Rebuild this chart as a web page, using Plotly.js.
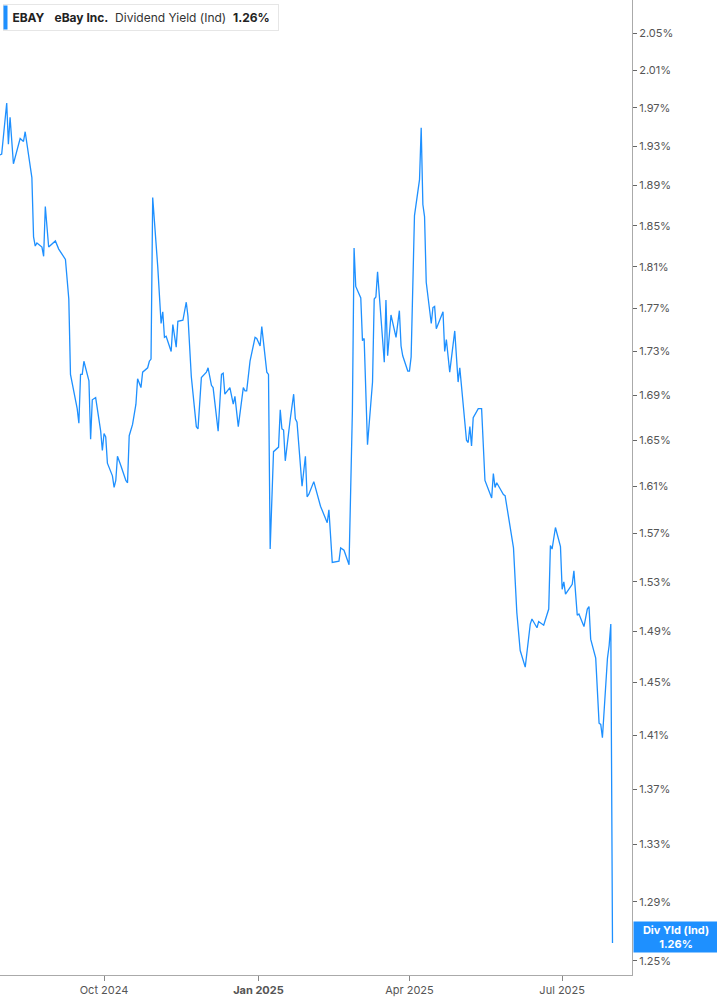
<!DOCTYPE html>
<html>
<head>
<meta charset="utf-8">
<script src="https://cdn.plot.ly/plotly-3.0.1.min.js"></script>
<style>
  html, body { margin:0; padding:0; background:#fff; }
  #chart { width:717px; height:1005px; }
</style>
</head>
<body>
<div id="chart"></div>
<script>
var dates = [
  '2024-07-31','2024-08-01','2024-08-04','2024-08-05','2024-08-06','2024-08-08','2024-08-12','2024-08-14','2024-08-15','2024-08-16',
  '2024-08-19','2024-08-20','2024-08-21','2024-08-22','2024-08-25','2024-08-26','2024-08-27','2024-08-29','2024-09-02','2024-09-04',
  '2024-09-08','2024-09-10','2024-09-11','2024-09-15','2024-09-16','2024-09-17','2024-09-18','2024-09-19','2024-09-22','2024-09-23',
  '2024-09-24','2024-09-26','2024-09-27','2024-09-29','2024-09-30','2024-10-01','2024-10-02','2024-10-03','2024-10-06','2024-10-07',
  '2024-10-08','2024-10-09','2024-10-11','2024-10-14','2024-10-15','2024-10-16','2024-10-18','2024-10-20','2024-10-21','2024-10-23',
  '2024-10-24','2024-10-27','2024-10-28','2024-10-29','2024-10-30','2024-11-02','2024-11-04','2024-11-05','2024-11-06','2024-11-07',
  '2024-11-10','2024-11-11','2024-11-13','2024-11-14','2024-11-17','2024-11-19','2024-11-20','2024-11-22','2024-11-25','2024-11-26',
  '2024-11-28','2024-12-01','2024-12-02','2024-12-04','2024-12-05','2024-12-08','2024-12-10','2024-12-11','2024-12-12','2024-12-15',
  '2024-12-17','2024-12-18','2024-12-20','2024-12-23','2024-12-24','2024-12-25','2024-12-27','2024-12-29','2024-12-30','2024-12-31',
  '2025-01-02','2025-01-03','2025-01-06','2025-01-07','2025-01-08','2025-01-10','2025-01-13','2025-01-14','2025-01-15','2025-01-16',
  '2025-01-17','2025-01-20','2025-01-22','2025-01-23','2025-01-24','2025-01-27','2025-01-29','2025-01-30','2025-01-31','2025-02-03',
  '2025-02-05','2025-02-07','2025-02-11','2025-02-12','2025-02-14','2025-02-18','2025-02-19','2025-02-21','2025-02-24','2025-02-26',
  '2025-02-27','2025-02-28','2025-03-03','2025-03-04','2025-03-05','2025-03-07','2025-03-10','2025-03-11','2025-03-12','2025-03-13',
  '2025-03-17','2025-03-18','2025-03-19','2025-03-21','2025-03-24','2025-03-26','2025-03-27','2025-03-28','2025-03-31','2025-04-01',
  '2025-04-02','2025-04-04','2025-04-07','2025-04-08','2025-04-09','2025-04-10','2025-04-11','2025-04-14','2025-04-15','2025-04-16',
  '2025-04-17','2025-04-21','2025-04-22','2025-04-23','2025-04-25','2025-04-28','2025-04-30','2025-05-01','2025-05-05','2025-05-06',
  '2025-05-07','2025-05-08','2025-05-09','2025-05-12','2025-05-14','2025-05-16','2025-05-20','2025-05-21','2025-05-22','2025-05-23',
  '2025-05-27','2025-05-28','2025-06-02','2025-06-04','2025-06-06','2025-06-09','2025-06-12','2025-06-13','2025-06-16','2025-06-17',
  '2025-06-20','2025-06-23','2025-06-24','2025-06-25','2025-06-27','2025-06-30','2025-07-01','2025-07-02','2025-07-03','2025-07-07',
  '2025-07-08','2025-07-10','2025-07-11','2025-07-14','2025-07-16','2025-07-17','2025-07-18','2025-07-21','2025-07-23','2025-07-24',
  '2025-07-25','2025-07-28','2025-07-29','2025-07-30','2025-07-31'
];
var divYield = [
  1.921,1.922,1.975,1.932,1.960,1.912,1.938,1.935,1.945,1.934,
  1.898,1.839,1.830,1.833,1.829,1.820,1.869,1.829,1.835,1.827,
  1.817,1.779,1.709,1.678,1.665,1.709,1.709,1.721,1.703,1.651,
  1.686,1.688,1.679,1.658,1.641,1.656,1.653,1.630,1.619,1.609,
  1.615,1.636,1.628,1.615,1.613,1.654,1.664,1.682,1.705,1.697,
  1.711,1.715,1.721,1.723,1.878,1.810,1.756,1.767,1.743,1.744,
  1.730,1.755,1.734,1.758,1.759,1.776,1.763,1.707,1.662,1.660,
  1.706,1.711,1.715,1.699,1.697,1.658,1.709,1.710,1.691,1.697,
  1.682,1.689,1.662,1.697,1.694,1.694,1.721,1.735,1.743,1.742,
  1.735,1.753,1.711,1.709,1.557,1.640,1.644,1.677,1.660,1.659,
  1.632,1.669,1.691,1.669,1.666,1.610,1.636,1.601,1.603,1.614,
  1.603,1.593,1.579,1.590,1.546,1.547,1.558,1.556,1.544,1.676,
  1.828,1.791,1.780,1.740,1.742,1.646,1.702,1.779,1.781,1.805,
  1.720,1.778,1.726,1.764,1.743,1.768,1.735,1.726,1.712,1.712,
  1.725,1.860,1.896,1.949,1.871,1.859,1.795,1.756,1.771,1.772,
  1.751,1.767,1.730,1.741,1.711,1.749,1.702,1.715,1.650,1.648,
  1.662,1.645,1.670,1.678,1.678,1.615,1.600,1.621,1.609,1.613,
  1.603,1.602,1.558,1.505,1.475,1.462,1.496,1.500,1.493,1.498,
  1.495,1.508,1.560,1.557,1.575,1.559,1.524,1.530,1.520,1.528,
  1.539,1.503,1.504,1.494,1.508,1.510,1.484,1.469,1.419,1.418,
  1.408,1.469,1.479,1.496,1.262
];
var yTicks = [1.25,1.29,1.33,1.37,1.41,1.45,1.49,1.53,1.57,1.61,1.65,1.69,1.73,1.77,1.81,1.85,1.89,1.93,1.97,2.01,2.05];
var xTickVals = ['2024-10-01','2025-01-01','2025-04-01','2025-07-01'];
var xTickText = ['Oct 2024','<b>Jan 2025</b>','Apr 2025','Jul 2025'];

var lastVal = divYield[divYield.length - 1];
var blue = '#1e90ff';

var trace = {
  x: dates,
  y: divYield,
  type: 'scatter',
  mode: 'lines',
  line: { color: blue, width: 1.3 },
  hoverinfo: 'skip'
};

// plot area is 632 x 975 px
var pw = 632, ph = 975;

var layout = {
  width: 717,
  height: 1005,
  margin: { l: 0, r: 85, t: 0, b: 30 },
  paper_bgcolor: '#fff',
  plot_bgcolor: '#fff',
  showlegend: false,
  font: { family: 'Inter, "Open Sans", sans-serif', size: 11, color: '#555' },
  xaxis: {
    type: 'date',
    range: ['2024-07-31', '2025-08-11 15:00'],
    tickvals: xTickVals,
    ticktext: xTickText,
    ticks: 'outside',
    ticklen: 5,
    tickcolor: '#888',
    showgrid: false,
    zeroline: false,
    showline: true,
    linecolor: '#aaa',
    linewidth: 1,
    tickfont: { size: 11, color: '#555' },
    fixedrange: true
  },
  yaxis: {
    type: 'log',
    side: 'right',
    range: [Math.log10(1.2407), Math.log10(2.0865)],
    tickvals: yTicks,
    ticktext: yTicks.map(function(v){ return v.toFixed(2) + '%'; }),
    ticks: 'outside',
    ticklen: 4,
    tickcolor: '#666',
    showgrid: false,
    zeroline: false,
    showline: true,
    linecolor: '#aaa',
    linewidth: 1,
    tickfont: { size: 11, color: '#555' },
    fixedrange: true
  },
  annotations: [
    {
      xref: 'paper', yref: 'paper',
      x: 3 / pw, y: 1 - 4 / ph,
      xanchor: 'left', yanchor: 'top',
      showarrow: false,
      align: 'left',
      text: '&nbsp;<b>EBAY</b>&nbsp;&nbsp;&nbsp;<b>eBay Inc.</b>&nbsp;&nbsp;<span style="color:#333">Dividend Yield (Ind)</span>&nbsp;&nbsp;<b>' + lastVal.toFixed(2) + '%</b>&nbsp;',
      font: { family: 'Inter, sans-serif', size: 12, color: '#222' },
      bgcolor: '#fff',
      bordercolor: '#e6e6e6',
      borderwidth: 1,
      borderpad: 5
    },
    {
      // blue marker bar on the left of the legend box
      xref: 'paper', yref: 'paper',
      x: 3 / pw, y: 1 - 5 / ph,
      xanchor: 'left', yanchor: 'top',
      showarrow: false,
      text: ' ',
      width: 3,
      height: 23,
      borderpad: 0,
      bgcolor: blue
    },
    {
      xref: 'paper', yref: 'y',
      x: 1, y: Math.log10(lastVal),
      xanchor: 'left', yanchor: 'middle',
      xshift: 1,
      yshift: 6,
      showarrow: false,
      width: 82,
      height: 28,
      text: '<b>Div Yld (Ind)</b><br><b>' + lastVal.toFixed(2) + '%</b>',
      font: { family: 'Inter, sans-serif', size: 11, color: '#fff' },
      bgcolor: blue,
      borderpad: 1
    }
  ]
};

Plotly.newPlot('chart', [trace], layout, { displayModeBar: false, staticPlot: true });
</script>
</body>
</html>
